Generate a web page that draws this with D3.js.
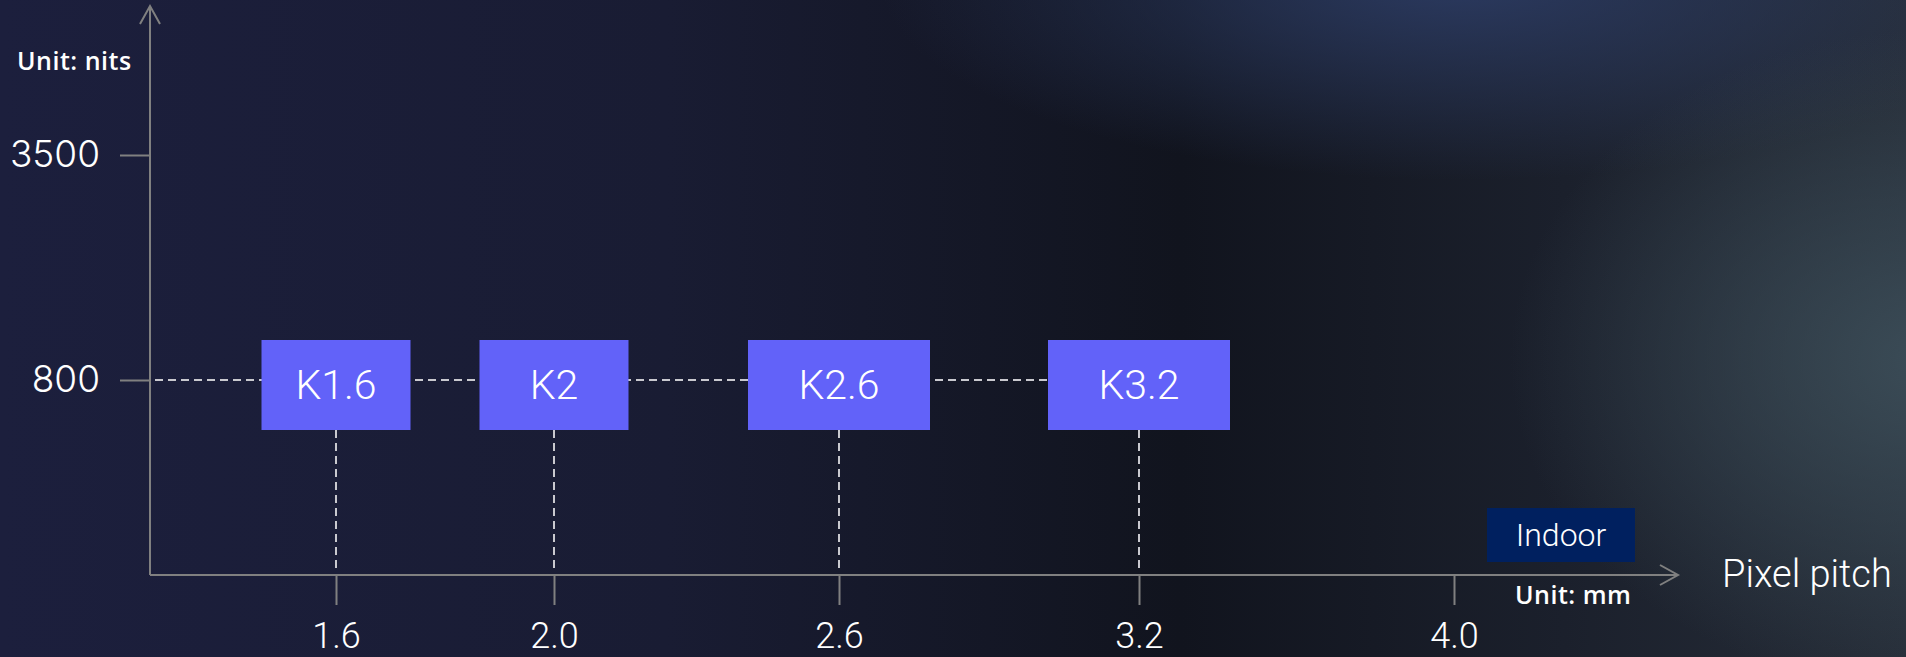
<!DOCTYPE html>
<html>
<head>
<meta charset="utf-8">
<script src="https://cdn.jsdelivr.net/npm/d3@7"></script>
<style>
  html, body { margin: 0; padding: 0; background: #151827; }
  #chart { width: 1906px; height: 657px; }
</style>
</head>
<body>
<div id="chart"></div>
<script>
// data
const models = ["K1.6", "K2", "K2.6", "K3.2"];
const modelPitch = [1.6, 2.0, 2.6, 3.2];
const modelNits = [800, 800, 800, 800];
const pitchTicks = [1.6, 2.0, 2.6, 3.2, 4.0];
const nitsTicks = [800, 3500];

// layout
const W = 1906, H = 657;
const x0 = 150, y0 = 575, yTop = 6, xEnd = 1678;
const pitchStops = [336, 554, 839, 1139, 1454];   // uneven spacing of the picture
const boxW = [149, 149, 182, 182], boxTop = 40, boxH = 90;

const svg = d3.select("#chart").append("svg")
  .attr("width", W)
  .attr("height", H);

// background
const defs = svg.append("defs");
const bg = defs.append("linearGradient").attr("id", "bg");
[["0%", "#1c1f3d"], ["35%", "#191c33"], ["62%", "#11141e"], ["82%", "#1b202c"], ["100%", "#262d38"]]
  .forEach(s => bg.append("stop").attr("offset", s[0]).attr("stop-color", s[1]));

const glowTop = defs.append("radialGradient").attr("id", "glowTop");
glowTop.append("stop").attr("offset", "0%").attr("stop-color", "#2d3d66").attr("stop-opacity", 0.9);
glowTop.append("stop").attr("offset", "100%").attr("stop-color", "#2d3d66").attr("stop-opacity", 0);

const glowRight = defs.append("radialGradient").attr("id", "glowRight");
glowRight.append("stop").attr("offset", "0%").attr("stop-color", "#3d4f5a").attr("stop-opacity", 0.9);
glowRight.append("stop").attr("offset", "100%").attr("stop-color", "#3d4f5a").attr("stop-opacity", 0);

svg.append("rect").attr("width", W).attr("height", H).attr("fill", "url(#bg)");
svg.append("ellipse").attr("cx", 1460).attr("cy", -20).attr("rx", 580).attr("ry", 200).attr("fill", "url(#glowTop)");
svg.append("ellipse").attr("cx", 1930).attr("cy", 360).attr("rx", 420).attr("ry", 330).attr("fill", "url(#glowRight)");

// scales
const x = d3.scaleLinear().domain(pitchTicks).range(pitchStops);
const y = d3.scaleLinear().domain([0, 800, 3500]).range([y0, 380, 155]);

const axisColor = "#808080";
const dashColor = "#c9c9cf";

// guide lines
svg.append("line")
  .attr("x1", x0 + 5)
  .attr("x2", x(modelPitch[modelPitch.length - 1]) - boxW[boxW.length - 1] / 2)
  .attr("y1", y(800)).attr("y2", y(800))
  .attr("stroke", dashColor).attr("stroke-width", 2)
  .attr("stroke-dasharray", "8,5");

svg.selectAll(".vguide")
  .data(modelPitch)
  .enter().append("line")
  .attr("class", "vguide")
  .attr("x1", d => x(d)).attr("x2", d => x(d))
  .attr("y1", (d, i) => y(modelNits[i]) - boxTop + boxH)
  .attr("y2", y0 - 2)
  .attr("stroke", dashColor).attr("stroke-width", 2)
  .attr("stroke-dasharray", "8,5");

// axes
const xAxis = svg.append("g")
  .attr("transform", `translate(0,${y0})`)
  .call(d3.axisBottom(x).tickValues(pitchTicks).tickSize(30).tickPadding(17).tickFormat(d3.format(".1f")));
xAxis.select(".domain").remove();
xAxis.selectAll("line").attr("stroke", axisColor).attr("stroke-width", 2);
xAxis.selectAll("text")
  .attr("fill", "#ffffff")
  .style("font-family", "Roboto, sans-serif")
  .style("font-weight", 300)
  .style("font-size", "36px");

const yAxis = svg.append("g")
  .attr("transform", `translate(${x0},0)`)
  .call(d3.axisLeft(y).tickValues(nitsTicks).tickSize(30).tickPadding(20).tickFormat(d3.format("d")));
yAxis.select(".domain").remove();
yAxis.selectAll("line").attr("stroke", axisColor).attr("stroke-width", 2);
yAxis.selectAll("text")
  .attr("fill", "#ffffff")
  .style("font-family", "Inter, sans-serif")
  .style("font-weight", 300)
  .style("font-size", "37px");

// axis lines with arrows
svg.append("path")
  .attr("d", `M${x0},${y0}V${yTop}M${x0 - 10},${yTop + 18}L${x0},${yTop}L${x0 + 10},${yTop + 18}`)
  .attr("fill", "none").attr("stroke", axisColor).attr("stroke-width", 2);
svg.append("path")
  .attr("d", `M${x0},${y0}H${xEnd}M${xEnd - 18},${y0 - 10}L${xEnd},${y0}L${xEnd - 18},${y0 + 10}`)
  .attr("fill", "none").attr("stroke", axisColor).attr("stroke-width", 2);

// model boxes
const boxes = svg.selectAll(".model")
  .data(models)
  .enter().append("g")
  .attr("class", "model");

boxes.append("rect")
  .attr("x", (d, i) => x(modelPitch[i]) - boxW[i] / 2)
  .attr("y", (d, i) => y(modelNits[i]) - boxTop)
  .attr("width", (d, i) => boxW[i])
  .attr("height", boxH)
  .attr("fill", "#6262f9");

boxes.append("text")
  .attr("x", (d, i) => x(modelPitch[i]))
  .attr("y", (d, i) => y(modelNits[i]) - boxTop + boxH / 2)
  .attr("text-anchor", "middle")
  .attr("dominant-baseline", "central")
  .attr("fill", "#ffffff")
  .style("font-family", "Roboto, sans-serif")
  .style("font-weight", 300)
  .style("font-size", "41px")
  .text(d => d);

// labels
svg.append("text")
  .attr("x", 17).attr("y", 70)
  .attr("fill", "#ffffff")
  .style("font-family", "'Open Sans', sans-serif")
  .style("font-weight", 600)
  .style("font-size", "25px")
  .style("letter-spacing", "0.5px")
  .text("Unit: nits");

svg.append("text")
  .attr("x", 1515).attr("y", 604)
  .attr("fill", "#ffffff")
  .style("font-family", "'Open Sans', sans-serif")
  .style("font-weight", 600)
  .style("font-size", "25px")
  .style("letter-spacing", "0.5px")
  .text("Unit: mm");

svg.append("text")
  .attr("x", 1722).attr("y", 587)
  .attr("fill", "#ffffff")
  .style("font-family", "Roboto, sans-serif")
  .style("font-weight", 300)
  .style("font-size", "38px")
  .text("Pixel pitch");

// indoor badge
svg.append("rect")
  .attr("x", 1487).attr("y", 508)
  .attr("width", 148).attr("height", 54)
  .attr("fill", "#00205f");

svg.append("text")
  .attr("x", 1561).attr("y", 535)
  .attr("text-anchor", "middle")
  .attr("dominant-baseline", "central")
  .attr("fill", "#ffffff")
  .style("font-family", "Roboto, sans-serif")
  .style("font-weight", 300)
  .style("font-size", "32px")
  .text("Indoor");
</script>
</body>
</html>
